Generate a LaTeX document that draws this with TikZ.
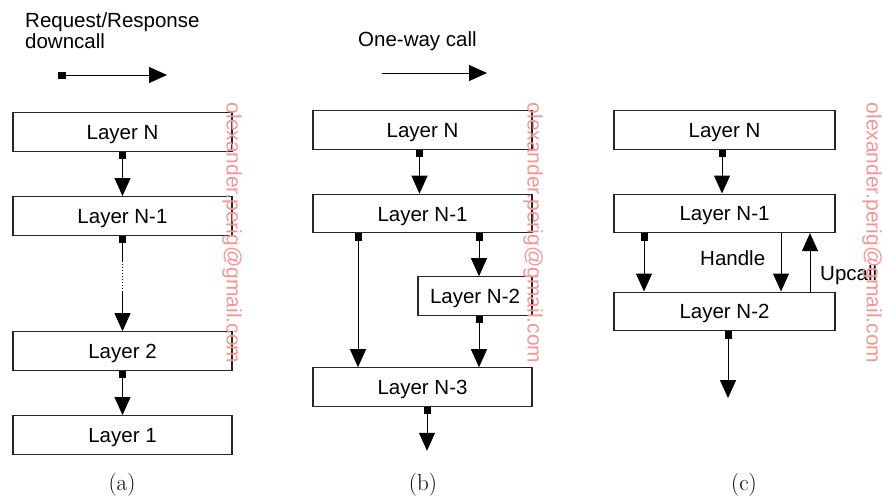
\documentclass[tikz,border=0pt]{standalone}
\usepackage{fontspec}
\setsansfont{Liberation Sans}
\usetikzlibrary{arrows.meta, positioning}
\definecolor{markpink}{RGB}{245,150,150}
\tikzset{
layer/.style={shape=rectangle, draw=black!85, line width=1.1pt, minimum width=219pt, minimum height=38.5pt, inner sep=0, text height=15pt, text depth=0pt, font=\sffamily\fontsize{20.5}{21}\selectfont},
call/.style={{Square[length=7.5pt,width=7pt]}-{Triangle[length=18pt,width=16pt]}, line width=1pt},
oneway/.style={-{Triangle[length=18pt,width=16pt]}, line width=1pt},
caption/.style={font=\sffamily\fontsize{20.5}{21}\selectfont, inner sep=0},
wmark/.style={rotate=-90, text=markpink, inner sep=0, font=\sffamily\fontsize{21}{21}\selectfont},
sub/.style={font=\rmfamily\fontsize{23}{23}\selectfont}}

\begin{document}
\begin{tikzpicture}[x=1pt, y=-1pt]
\useasboundingbox (0,0) rectangle (883,501);
% (a) request/response
\node [caption, anchor=north west, align=left] at (25, 12) (rr-txt) {Request/Response\\downcall};
\coordinate (rr-s) at (58, 75);
\coordinate (rr-e) at (167, 75);
\draw [call] (rr-s) -- (rr-e);
\foreach \lname/\ly [count=\i] in {N/132, N-1/215.8, 2/351, 1/434.8}{
      \node [layer] at (122.5, \ly) (a-\i) {Layer \lname};
}
\draw [call] (a-1.south) -- (a-2.north);
\coordinate [below=25pt of a-2.south] (dots-top);
\coordinate [above=39pt of a-3.north] (dots-bot);
\draw [line width=1pt, {Square[length=7.5pt,width=7pt]}-] (a-2.south) -- (dots-top);
\draw [line width=1pt, dotted] (dots-top) -- (dots-bot);
\draw [oneway] (dots-bot) -- (a-3.north);
\draw [call] (a-3.south) -- (a-4.north);
\node [sub] at (122, 485) (sub-a) {(a)};

% (b) one-way
\node [caption, anchor=base west] at (358, 46) (ow-txt) {One-way call};
\coordinate (ow-s) at (382, 73);
\coordinate (ow-e) at (487, 73);
\draw [oneway] (ow-s) -- (ow-e);
\node [layer] at (422.5, 130) (b-1) {Layer N};
\node [layer] at (422.5, 213.5) (b-2) {Layer N-1};
\node [layer, minimum width=114pt] at (475, 296) (b-3) {Layer N-2};
\node [layer] at (422.5, 387) (b-4) {Layer N-3};
\draw [call] ([xshift=-3pt]b-1.south) -- ([xshift=-3pt]b-2.north);
\draw [call] ([xshift=-64.5pt]b-2.south) -- ([xshift=-64.5pt]b-4.north);
\draw [call] ([xshift=56.5pt]b-2.south) -- ([xshift=4pt]b-3.north);
\draw [call] ([xshift=4pt]b-3.south) -- ([xshift=56.5pt]b-4.north);
\coordinate (b-out) at ([xshift=4.5pt, yshift=-44pt]b-4.south);
\draw [call] ([xshift=4.5pt]b-4.south) -- (b-out);
\node [sub] at (423, 485) (sub-b) {(b)};

% (c) handle / upcall
\node [layer, minimum width=221pt] at (724.5, 130) (c-1) {Layer N};
\node [layer, minimum width=221pt] at (724.5, 213.3) (c-2) {Layer N-1};
\node [layer, minimum width=221pt] at (724.5, 311.3) (c-3) {Layer N-2};
\draw [call] ([xshift=-2.5pt]c-1.south) -- ([xshift=-2.5pt]c-2.north);
\draw [call] ([xshift=-80.5pt]c-2.south) -- ([xshift=-80.5pt]c-3.north);
\draw [oneway] ([xshift=56.5pt]c-2.south) -- ([xshift=56.5pt]c-3.north);
\draw [oneway] ([xshift=85.5pt]c-3.north) -- ([xshift=85.5pt]c-2.south);
\node [caption, anchor=base west] at (700, 265) (handle) {Handle};
\node [caption, anchor=base west] at (820, 280) (upcall) {Upcall};
\coordinate (c-out) at ([xshift=3.5pt, yshift=-67pt]c-3.south);
\draw [call] ([xshift=3.5pt]c-3.south) -- (c-out);
\node [sub] at (744, 485) (sub-c) {(c)};

\foreach \wx/\wn in {232/a, 533/b, 872/c}
      \node [wmark] at (\wx, 233) (mark-\wn) {olexander.perig@gmail.com};
\end{tikzpicture}
\end{document}
